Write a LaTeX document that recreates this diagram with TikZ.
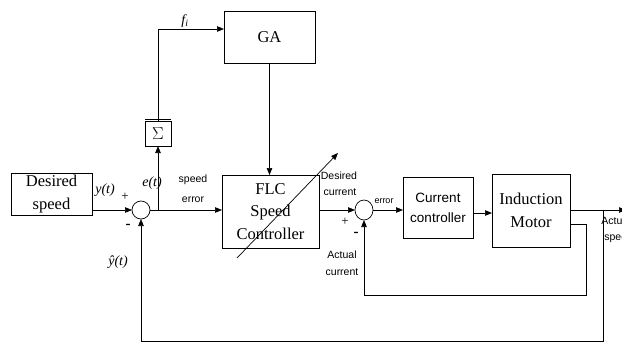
\documentclass[tikz,border=0pt]{standalone}
\usepackage{fontspec}
\setmainfont{Liberation Serif}
\newfontfamily\smallsans{Liberation Sans}
\usetikzlibrary{arrows.meta,shapes.geometric}
\begin{document}
\begin{tikzpicture}[x=1pt,y=-1pt,line width=0.7pt,
  blk/.style={draw,rectangle,inner sep=0pt,outer sep=0pt},
  arr/.style={-{Triangle[length=7pt,width=5.5pt]}},
  serif/.style={font=\fontsize{16.5}{22.5}\selectfont,align=center},
  sans/.style={font=\smallsans\fontsize{13.5}{20}\selectfont,align=center},
  lab/.style={font=\smallsans\fontsize{10.5}{12}\selectfont,inner sep=0pt},
  mlab/.style={font=\itshape\fontsize{14}{15}\selectfont,inner sep=0pt},
  sumc/.style={draw,ellipse,inner sep=0pt,outer sep=0pt}]
\useasboundingbox (0,0) rectangle (622,343);
% blocks
\node[blk,serif,minimum width=81pt,minimum height=42pt] (ds) at (51.5,194) {Desired\\speed};
\node[blk,minimum width=26pt,minimum height=25pt] (sig) at (158,133.5) {\fontsize{18}{18}\selectfont$\Sigma$};
\node[blk,serif,minimum width=91pt,minimum height=52pt] (ga) at (269.5,37) {GA};
\node[blk,serif,minimum width=97pt,minimum height=73pt] (flc) at (270.5,211.5) {FLC\\Speed\\Controller};
\node[blk,sans,minimum width=70pt,minimum height=61pt] (cc) at (438,207.5) {Current\\controller};
\node[blk,serif,minimum width=78pt,minimum height=73pt] (im) at (531,210.5) {Induction\\Motor};
\node[sumc,minimum width=18pt,minimum height=18pt] (s1) at (141,210) {};
\node[sumc,minimum width=18pt,minimum height=20pt] (s2) at (364,210) {};
% connectors
\draw[arr] (ds.east |- s1) -- (s1.west);
\draw[arr] (s1.east) -- (s1.east -| flc.west);
\coordinate (b1) at (158,210);
\draw[arr] (b1) -- (sig.south);
\draw ([yshift=2pt]sig.north west) -- ([yshift=2pt]sig.north east);
\coordinate (c1) at (158,29);
\draw[arr] (sig.north) -- (c1) -- (c1 -| ga.west);
\draw[arr] (ga.south) -- (ga.south |- flc.north);
\coordinate (dg1) at (237,258);
\coordinate (dg2) at (338,153);
\draw[arr] (dg1) -- (dg2);
\draw[arr] (flc.east |- s2) -- (s2.west);
\draw[arr] (s2.east) -- (s2.east -| cc.west);
\draw[arr] (cc.east |- 0,213) -- (im.west |- 0,213);
\coordinate (out) at (626,210);
\draw[arr] (im.east |- out) -- (out);
\coordinate (o1) at (603,210);
\coordinate (o2) at (603,341);
\draw[arr] (o1) -- (o2) -- (o2 -| s1) -- (s1.south);
\coordinate (i1) at (586,224);
\coordinate (i2) at (586,295);
\draw[arr] (im.east |- i1) -- (i1) -- (i2) -- (i2 -| s2) -- (s2.south);
% labels
\node[mlab] at (105,190) {y(t)};
\node[inner sep=0pt,font=\fontsize{13}{13}\selectfont] at (125,197) {+};
\node[mlab] at (152,183) {e(t)};
\node[inner sep=0pt,font=\bfseries\fontsize{15}{15}\selectfont] at (128,226) {-};
\node[mlab] at (118,262) {\^{y}(t)};
\node[mlab] at (185,21) {f\textsubscript{i}};
\node[lab] at (193,180) {speed};
\node[lab] at (193,200) {error};
\node[lab] at (339,176) {Desired};
\node[lab] at (340,192) {current};
\node[inner sep=0pt,font=\fontsize{13}{13}\selectfont] at (345,222) {+};
\node[inner sep=0pt,font=\bfseries\fontsize{15}{15}\selectfont] at (356,234) {-};
\node[lab] at (342,255) {Actual};
\node[lab] at (342,272) {current};
\node[lab,font=\smallsans\fontsize{9}{10}\selectfont] at (384,201) {error};
\node[lab,anchor=west] at (601,221) {Actual};
\node[lab,anchor=west] at (604,238) {speed};
\end{tikzpicture}
\end{document}
